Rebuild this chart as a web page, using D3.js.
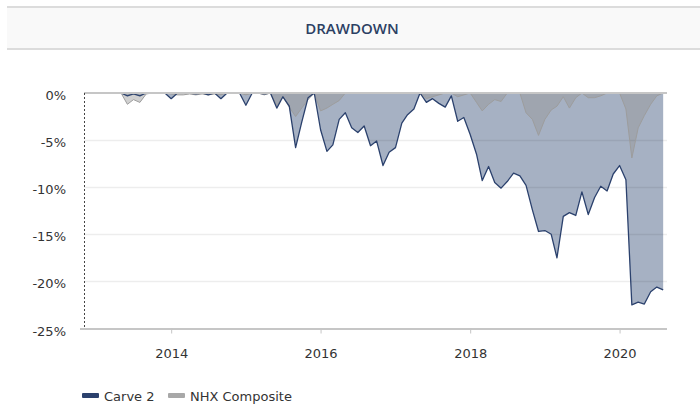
<!DOCTYPE html>
<html><head><meta charset="utf-8">
<script src="https://cdn.jsdelivr.net/npm/d3@7"></script>
<style>
html,body{margin:0;padding:0;background:#fff;}
svg{display:block;}
</style></head>
<body>
<svg id="chart" width="700" height="405"></svg>
<script>
// ---- data (monthly drawdown, %) ----
const firstMonth = [2012, 11]; // Dec 2012 (JS month index)
const carve2 = [
  0,
  0, 0, 0, 0, 0, -0.3, -0.1, -0.3, 0, 0, 0, 0,
  -0.6, 0, 0, 0, -0.1, 0, -0.2, 0, -0.6, 0, 0, 0,
  -1.3, 0, 0, -0.1, 0, -1.6, -0.4, -1.4, -5.8, -3.1, -0.5, 0,
  -3.9, -6.2, -5.5, -2.8, -2.1, -3.7, -4.2, -3.5, -5.6, -5.1, -7.7, -6.3,
  -5.8, -3.2, -2.3, -1.7, 0, -1.0, -0.6, -1.1, -1.5, -0.3, -3.0, -2.6,
  -4.4, -6.5, -9.3, -7.8, -9.5, -10.1, -9.4, -8.5, -8.8, -9.8, -12.4, -14.7,
  -14.6, -15.0, -17.5, -13.1, -12.7, -13.0, -10.5, -12.9, -11.1, -9.9, -10.4, -8.6,
  -7.7, -9.2, -22.5, -22.2, -22.4, -21.1, -20.6, -20.9
];
const nhxComposite = [
  0,
  0, 0, 0, 0, 0, -1.2, -0.7, -1.0, -0.1, 0, 0, 0,
  -0.1, -0.2, -0.2, -0.1, -0.2, -0.1, -0.2, -0.1, -0.2, 0, 0, 0,
  -0.2, 0, 0, -0.2, 0, -1.3, -0.4, -1.5, -2.5, -1.6, -0.7, 0,
  -1.9, -1.6, -1.2, -0.8, 0, 0, 0, 0, 0, 0, 0, 0,
  0, 0, 0, 0, 0, -0.6, -0.4, -0.2, 0, 0, -0.4, -0.2,
  0, -1.0, -1.9, -1.2, -0.7, -0.9, 0, 0, 0, -2.1, -2.8, -4.5,
  -2.8, -1.8, -1.4, -0.4, -1.6, -0.5, 0, -0.5, -0.5, -0.3, 0, 0,
  0, -1.7, -6.9, -3.7, -2.4, -1.2, -0.3, 0
];
const yTickValues = [0, -5, -10, -15, -20, -25];
const xTickYears = [2014, 2016, 2018, 2020];
const seriesNames = ["Carve 2", "NHX Composite"];
const titleText = "DRAWDOWN";

// ---- layout ----
const W = 700, H = 405;
const plot = {left: 84, right: 665, top: 93, bottom: 328.5};
const colors = {
  carveLine: "#2b416d", carveFill: "rgba(44,68,112,0.42)",
  nhxLine: "#9d9d9d", nhxFill: "rgba(150,150,150,0.45)",
  text: "#333", title: "#2c3f63"
};

const svg = d3.select("#chart");

// title band
svg.append("rect").attr("x", 7).attr("y", 7).attr("width", W - 7).attr("height", 42).attr("fill", "#f9f9f9");
svg.append("line").attr("x1", 7).attr("x2", W).attr("y1", 7).attr("y2", 7).attr("stroke", "#dcdcdc").attr("stroke-width", 2);
svg.append("line").attr("x1", 7).attr("x2", W).attr("y1", 49).attr("y2", 49).attr("stroke", "#dcdcdc").attr("stroke-width", 2);
svg.append("text").attr("x", 352).attr("y", 34).attr("text-anchor", "middle")
  .attr("font-family", "'Open Sans', sans-serif").attr("font-size", 15).attr("font-weight", 600)
  .attr("fill", colors.title).text(titleText);

const dates = carve2.map((_, i) => d3.timeMonth.offset(new Date(firstMonth[0], firstMonth[1], 1), i));
const rows = dates.map((d, i) => ({date: d, carve: carve2[i], nhx: nhxComposite[i]}));

const x = d3.scaleTime()
  .domain([new Date(2012, 10, 1), new Date(2020, 7, 10)])
  .range([plot.left, plot.right]);
const y = d3.scaleLinear().domain([-25, 0]).range([plot.bottom, plot.top]);

// areas
const areaGen = key => d3.area().x(d => x(d.date)).y0(y(0)).y1(d => y(d[key]));
const lineGen = key => d3.line().x(d => x(d.date)).y(d => y(d[key]));

svg.append("path").datum(rows).attr("d", areaGen("carve")).attr("fill", colors.carveFill);
svg.append("path").datum(rows).attr("d", areaGen("nhx")).attr("fill", colors.nhxFill);

// gridlines
svg.append("g").selectAll("line").data(yTickValues.filter(v => v !== 0 && v !== -25)).join("line")
  .attr("x1", plot.left).attr("x2", plot.right + 2)
  .attr("y1", d => Math.round(y(d)) + 0.5).attr("y2", d => Math.round(y(d)) + 0.5)
  .attr("stroke", "rgba(0,0,0,0.07)").attr("stroke-width", 1.5);

// lines
svg.append("path").datum(rows).attr("d", lineGen("nhx")).attr("fill", "none")
  .attr("stroke", colors.nhxLine).attr("stroke-width", 1);
svg.append("path").datum(rows).attr("d", lineGen("carve")).attr("fill", "none")
  .attr("stroke", colors.carveLine).attr("stroke-width", 1.3).attr("stroke-linejoin", "round");

// zero line
svg.append("line").attr("x1", plot.left).attr("x2", plot.right + 2)
  .attr("y1", y(0)).attr("y2", y(0)).attr("stroke", "#c6c6c6").attr("stroke-width", 2);

// left dashed axis line
svg.append("line").attr("x1", plot.left + 0.5).attr("x2", plot.left + 0.5)
  .attr("y1", y(0)).attr("y2", plot.bottom)
  .attr("stroke", "#444").attr("stroke-width", 1).attr("stroke-dasharray", "2,2");

// y labels
const yAxis = d3.axisLeft(y).tickValues(yTickValues).tickSize(0).tickPadding(0)
  .tickFormat(d => d + "%");
const gy = svg.append("g").attr("transform", `translate(66,0)`).call(yAxis);
gy.select(".domain").remove();
gy.selectAll("text").attr("font-family", "'DejaVu Sans', Verdana, sans-serif")
  .attr("font-size", 13).attr("fill", colors.text).attr("dy", "0.5em");

// x axis
const xAxis = d3.axisBottom(x).tickValues(xTickYears.map(yr => new Date(yr, 0, 1)))
  .tickSize(5).tickPadding(15).tickFormat(d3.timeFormat("%Y"));
const gx = svg.append("g").attr("transform", `translate(0,${plot.bottom})`).call(xAxis);
gx.select(".domain").remove();
gx.insert("line", ":first-child").attr("x1", 80).attr("x2", plot.right + 2).attr("y1", 0.5).attr("y2", 0.5)
  .attr("stroke", "#c6c6c6").attr("stroke-width", 2);
gx.selectAll(".tick line").attr("stroke", "#c6c6c6");
gx.selectAll("text").attr("font-family", "'DejaVu Sans', Verdana, sans-serif")
  .attr("font-size", 13).attr("fill", colors.text);

// legend
const legend = svg.append("g").attr("transform", "translate(82,393)");
const legendItems = [
  {name: seriesNames[0], color: "#2b416d", x: 0},
  {name: seriesNames[1], color: "#a8a8a8", x: 86}
];
const li = legend.selectAll("g").data(legendItems).join("g").attr("transform", d => `translate(${d.x},0)`);
li.append("rect").attr("width", 17).attr("height", 5).attr("rx", 1).attr("fill", d => d.color);
li.append("text").attr("x", 22).attr("y", 8)
  .attr("font-family", "'DejaVu Sans', Verdana, sans-serif").attr("font-size", 13)
  .attr("fill", colors.text).text(d => d.name);
</script>
</body></html>
